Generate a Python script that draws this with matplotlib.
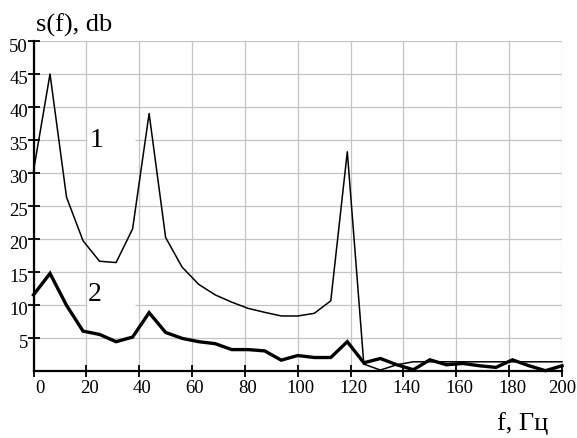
import matplotlib
matplotlib.use("Agg")
import matplotlib.pyplot as plt
from matplotlib.transforms import ScaledTranslation

plt.rcParams['font.family'] = ['Liberation Serif', 'DejaVu Serif']

freq = [0, 6.25, 12.5, 18.75, 25, 31.25, 37.5, 43.75, 50, 56.25, 62.5, 68.75,
        75, 81.25, 87.5, 93.75, 100, 106.25, 112.5, 118.75, 125, 131.25, 137.5,
        143.75, 150, 156.25, 162.5, 168.75, 175, 181.25, 187.5, 193.75, 200]
s1 = [30.3, 45.0, 26.3, 19.7, 16.6, 16.4, 21.5, 39.0, 20.2, 15.7, 13.1, 11.5,
      10.4, 9.45, 8.85, 8.3, 8.3, 8.7, 10.6, 33.2, 1.0, 0.1, 0.9,
      1.35, 1.35, 1.35, 1.35, 1.35, 1.35, 1.35, 1.35, 1.35, 1.35]
s2 = [11.5, 14.75, 9.9, 6.0, 5.5, 4.4, 5.1, 8.8, 5.8, 4.9, 4.4, 4.1,
      3.2, 3.2, 3.0, 1.6, 2.3, 2.0, 2.0, 4.4, 1.2, 1.85, 0.9,
      0.15, 1.65, 0.9, 1.1, 0.75, 0.5, 1.65, 0.75, 0.0, 0.75]
xticks = [0, 20, 40, 60, 80, 100, 120, 140, 160, 180, 200]
yticks = [5, 10, 15, 20, 25, 30, 35, 40, 45, 50]
xlabel = "f, Гц"
ylabel = "s(f), db"

fig = plt.figure(figsize=(5.77, 4.39), dpi=100)
ax = fig.add_axes([33.5/577, (439-371.7)/439, (562-33.5)/577, (371.7-42)/439])
ax.set_xlim(0, 200)
ax.set_ylim(0, 50)

ax.set_axisbelow(True)
ax.grid(True, color='#c4c4c4', lw=0.9, zorder=0)

# white gaps behind curve labels
ax.hlines([35, 10], 20.3, 38.3, color='white', lw=2.5, zorder=1)

ax.plot(freq, s1, color='black', lw=1.1, zorder=3, clip_on=False)
ax.plot(freq, s2, color='black', lw=2.4, zorder=3, clip_on=False,
        solid_joinstyle='miter')

ax.text(21.4, 34.1, "1", fontsize=20, ha='left', va='baseline', zorder=4)
ax.text(20.6, 10.7, "2", fontsize=20, ha='left', va='baseline', zorder=4)

for side in ['top', 'right']:
    ax.spines[side].set_visible(False)
for side in ['left', 'bottom']:
    ax.spines[side].set_linewidth(1.6)
    ax.spines[side].set_color('black')

ax.set_xticks(xticks)
ax.set_yticks(yticks)
ax.set_xticklabels([str(v) for v in xticks])
ax.set_yticklabels([str(v) for v in yticks])
ax.tick_params(axis='both', direction='inout', length=8, width=1.3,
               colors='black', labelsize=13.5, pad=1)
ax.tick_params(axis='y', pad=0)
ax.tick_params(axis='x', pad=2)

for lab in ax.get_yticklabels():
    lab.set_transform(lab.get_transform() + ScaledTranslation(0, -3/100, fig.dpi_scale_trans))
xlabs = ax.get_xticklabels()
for i, lab in enumerate(xlabs):
    dx = 6 if i == 0 else (0 if i == len(xlabs) - 1 else 3)
    lab.set_transform(lab.get_transform() + ScaledTranslation(dx/100, 0, fig.dpi_scale_trans))

fig.text(36/577, (439-31.5)/439, ylabel, fontsize=19, ha='left', va='baseline')
fig.text(497/577, (439-430)/439, xlabel, fontsize=19, ha='left', va='baseline')

fig.savefig("out.png", dpi=100)
